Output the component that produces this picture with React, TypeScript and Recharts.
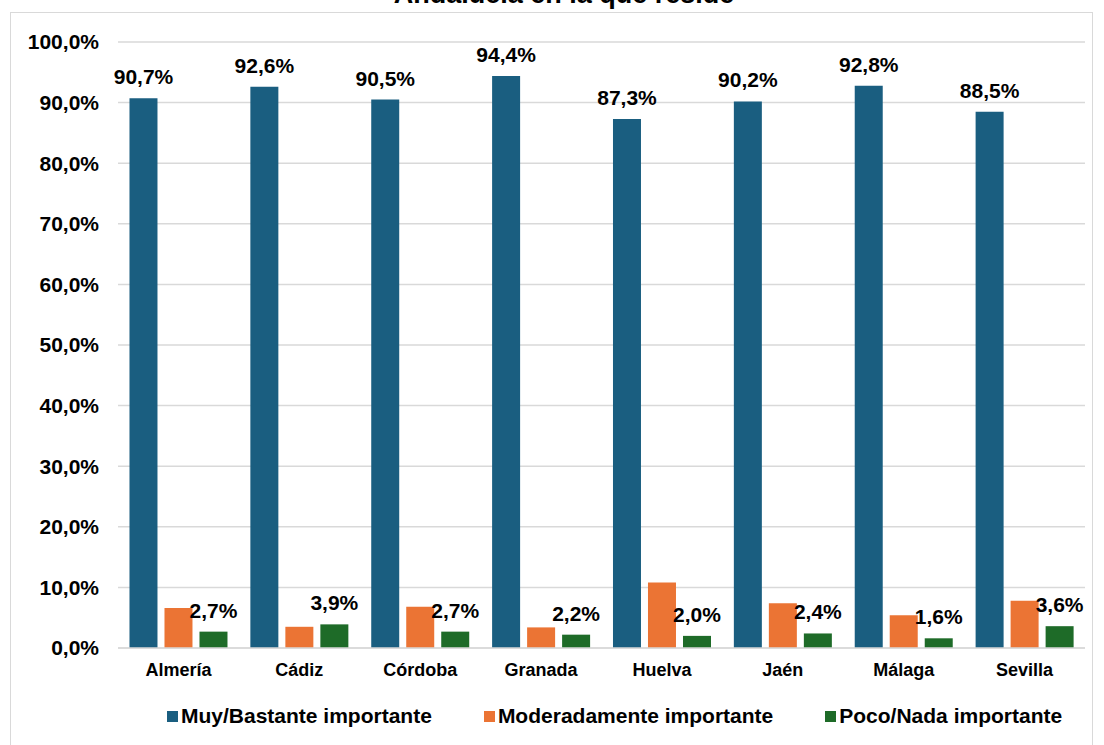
import { BarChart, Bar, XAxis, YAxis, CartesianGrid, LabelList } from 'recharts';

const provincias = ['Almería', 'Cádiz', 'Córdoba', 'Granada', 'Huelva', 'Jaén', 'Málaga', 'Sevilla'];
const muyBastante = [90.7, 92.6, 90.5, 94.4, 87.3, 90.2, 92.8, 88.5];
const moderadamente = [6.6, 3.5, 6.8, 3.4, 10.8, 7.4, 5.4, 7.8];
const pocoNada = [2.7, 3.9, 2.7, 2.2, 2.0, 2.4, 1.6, 3.6];
const yTicks = [0, 10, 20, 30, 40, 50, 60, 70, 80, 90, 100];

const series = [
    { key: 'muy', name: 'Muy/Bastante importante', color: '#1a5e80' },
    { key: 'mod', name: 'Moderadamente importante', color: '#eb7434' },
    { key: 'poco', name: 'Poco/Nada importante', color: '#1e6b28' },
];

const data = provincias.map((p, i) => ({
    provincia: p,
    muy: muyBastante[i],
    mod: moderadamente[i],
    poco: pocoNada[i],
}));

const FONT = '"Liberation Sans", Arial, sans-serif';
const pct = (v: number) => v.toFixed(1).replace('.', ',') + '%';
const labelStyle = { fill: '#000', fontSize: 21, fontWeight: 'bold', fontFamily: FONT };

const App = () => {
    return (
        <div style={{ position: 'absolute', left: 0, top: 0, width: 1104, height: 745, overflow: 'hidden', background: '#fff', fontFamily: FONT }}>
            <div style={{ position: 'absolute', left: 10, top: 12, width: 1083, height: 740, border: '1.5px solid #d9d9d9', boxSizing: 'border-box' }} />
            <div style={{ position: 'absolute', left: 0, width: 1128, top: -21, lineHeight: 'normal', textAlign: 'center', fontWeight: 'bold', fontSize: 27, color: '#000' }}>
                Andalucía en la que reside
            </div>
            <div style={{ position: 'absolute', left: 0, top: 0 }}>
                <BarChart width={1104} height={745} data={data}
                    margin={{ top: 42, right: 19, left: 0, bottom: 67 }}
                    barCategoryGap="9.5%" barGap={7}>
                    <CartesianGrid vertical={false} stroke="#d9d9d9" strokeWidth={1.5} />
                    <XAxis dataKey="provincia" height={30} tickLine={false}
                        axisLine={{ stroke: '#d9d9d9', strokeWidth: 1.5 }} tickMargin={9}
                        tick={{ fill: '#000', fontSize: 18, fontWeight: 'bold', fontFamily: FONT }} />
                    <YAxis width={118} domain={[0, 100]} ticks={yTicks} tickLine={false} axisLine={false}
                        tickMargin={13} tickFormatter={(v: number) => pct(v)}
                        tick={labelStyle} />
                    <Bar dataKey="muy" fill={series[0].color} isAnimationActive={false}>
                        <LabelList dataKey="muy" position="top" offset={14} formatter={(v: number) => pct(v)}
                            style={labelStyle} />
                    </Bar>
                    <Bar dataKey="mod" fill={series[1].color} isAnimationActive={false} />
                    <Bar dataKey="poco" fill={series[2].color} isAnimationActive={false}>
                        <LabelList dataKey="poco" position="top" offset={14} formatter={(v: number) => pct(v)}
                            style={labelStyle} />
                    </Bar>
                </BarChart>
            </div>
            <div style={{ position: 'absolute', left: 167, top: 704, display: 'flex', gap: 52, fontSize: 21, fontWeight: 'bold', color: '#000' }}>
                {series.map(s => (
                    <div key={s.key} style={{ display: 'flex', alignItems: 'center' }}>
                        <span style={{ display: 'inline-block', width: 11, height: 11, background: s.color, marginRight: 3 }} />
                        <span>{s.name}</span>
                    </div>
                ))}
            </div>
        </div>
    );
};

export default App;
